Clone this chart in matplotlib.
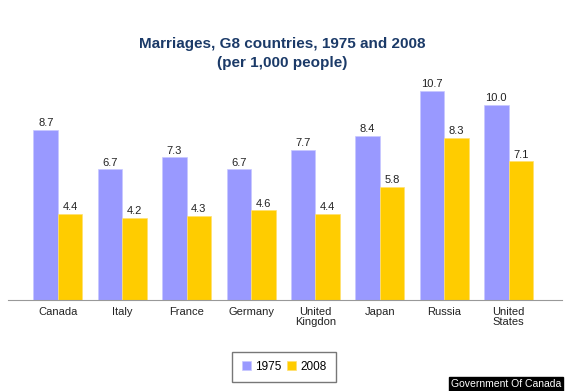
import numpy as np
import matplotlib
matplotlib.use("Agg")
import matplotlib.pyplot as plt

countries = ["Canada", "Italy", "France", "Germany", "United\nKingdon", "Japan", "Russia", "United\nStates"]
y1975 = [8.7, 6.7, 7.3, 6.7, 7.7, 8.4, 10.7, 10.0]
y2008 = [4.4, 4.2, 4.3, 4.6, 4.4, 5.8, 8.3, 7.1]

plt.rcParams['font.family'] = ['Liberation Sans', 'DejaVu Sans']

fig = plt.figure(figsize=(5.7, 3.91), dpi=100)
ax = fig.add_axes([8/570, 1-300/391, (562-8)/570, 220/391])

x = np.arange(len(countries))
w = 0.38
b1 = ax.bar(x - w/2, y1975, w, color='#9999ff', edgecolor='#c8c8ff', linewidth=0.5, label='1975')
b2 = ax.bar(x + w/2, y2008, w, color='#ffcc00', edgecolor='#ffe070', linewidth=0.5, label='2008')

for bars, vals in [(b1, y1975), (b2, y2008)]:
    for r, v in zip(bars, vals):
        ax.text(r.get_x() + r.get_width()/2, v + 0.08, "%.1f" % v,
                ha='center', va='bottom', fontsize=8, color='#222222')

ax.set_xlim(-0.776, 7.83)
ax.set_ylim(0, 11.26)
for s in ['top', 'right', 'left']:
    ax.spines[s].set_visible(False)
ax.spines['bottom'].set_color('#999999')
ax.set_yticks([])
ax.set_xticks(x)
ax.set_xticklabels(countries, fontsize=8, color='#222222', linespacing=1.0)
ax.tick_params(axis='x', length=0, pad=5)

fig.text(0.495, 1-44/391, "Marriages, G8 countries, 1975 and 2008", ha='center', va='center',
         fontsize=11, fontweight='bold', color='#1b3a68')
fig.text(0.495, 1-63/391, "(per 1,000 people)", ha='center', va='center',
         fontsize=11, fontweight='bold', color='#1b3a68')

leg = fig.legend(loc='center', bbox_to_anchor=(284/570, 1-367/391), ncol=2, fontsize=8.5,
                 frameon=True, fancybox=False, edgecolor='#555555', handlelength=0.8,
                 handleheight=0.8, handletextpad=0.3, columnspacing=0.5, borderpad=0.8)
leg.get_frame().set_linewidth(1.0)

fig.text(506/570, 1-384/391, "Government Of Canada", ha='center', va='center', fontsize=7.5,
         color='white', bbox=dict(boxstyle='square,pad=0.15', facecolor='black', edgecolor='black'))

fig.savefig("out.png", dpi=100)
